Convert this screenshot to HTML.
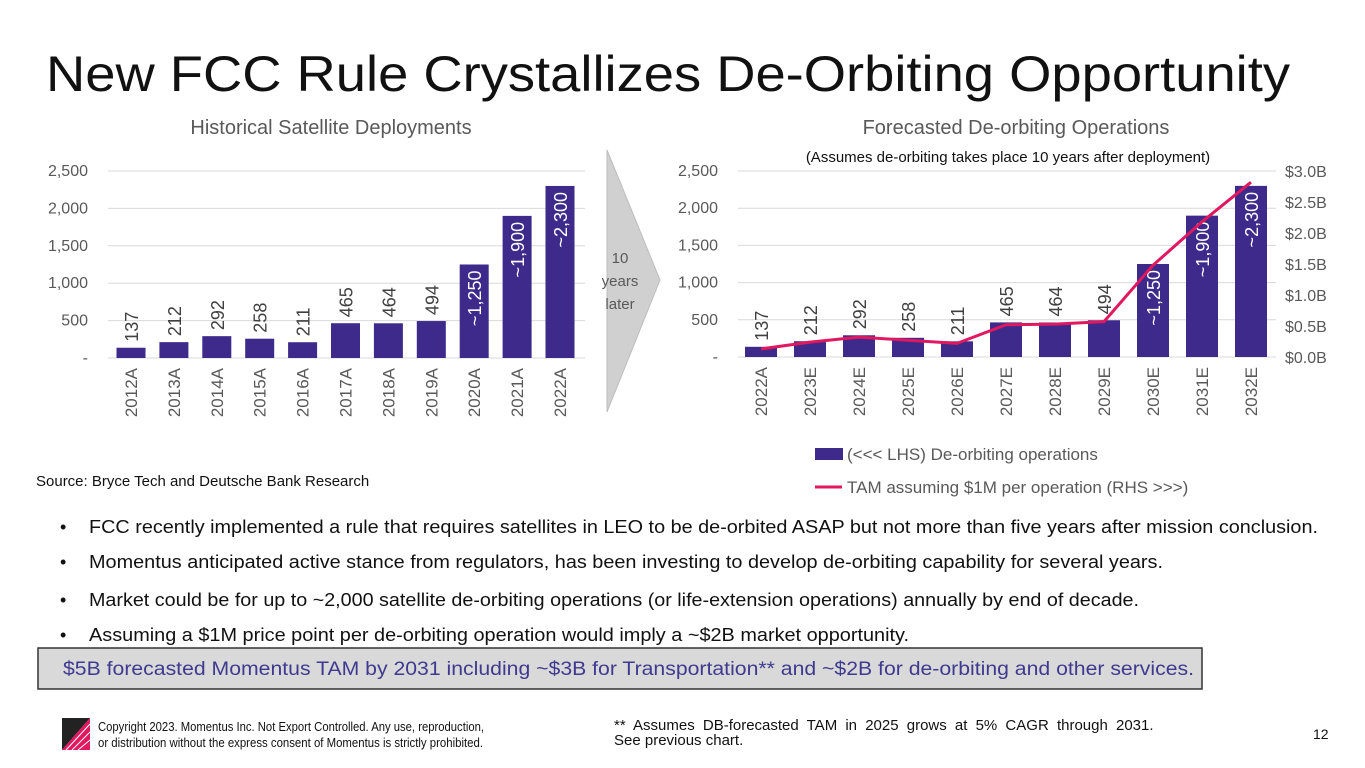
<!DOCTYPE html>
<html><head><meta charset="utf-8"><style>
body{margin:0;background:#fff;width:1365px;height:768px;overflow:hidden;font-family:"Liberation Sans",sans-serif}
svg{display:block}
</style></head><body>
<svg id="s" width="1365" height="768" xmlns="http://www.w3.org/2000/svg" font-family="Liberation Sans, sans-serif">
<text x="46" y="91" font-size="50" fill="#111" textLength="1244" lengthAdjust="spacingAndGlyphs">New FCC Rule Crystallizes De-Orbiting Opportunity</text>
<text x="331" y="134" font-size="20" fill="#595959" text-anchor="middle">Historical Satellite Deployments</text>
<text x="1016" y="134" font-size="20" fill="#595959" text-anchor="middle">Forecasted De-orbiting Operations</text>
<text x="1008" y="162" font-size="15" fill="#111" text-anchor="middle">(Assumes de-orbiting takes place 10 years after deployment)</text>
<g id="left"></g>
<g id="right"></g>
<g>
<polygon points="607,150 660,280 607,412" fill="#d0d0d0" stroke="#bdbdbd"/>
<text x="620" y="263" font-size="15" fill="#595959" text-anchor="middle">10</text>
<text x="620" y="286" font-size="15" fill="#595959" text-anchor="middle">years</text>
<text x="620" y="309" font-size="15" fill="#595959" text-anchor="middle">later</text>
</g>
<g>
<rect x="815" y="448" width="28" height="12" fill="#3d2a8a"/>
<text x="847" y="460" font-size="17" fill="#595959">(&lt;&lt;&lt; LHS) De-orbiting operations</text>
<line x1="815" y1="487" x2="842" y2="487" stroke="#e0185f" stroke-width="3"/>
<text x="847" y="493" font-size="17" fill="#595959">TAM assuming $1M per operation (RHS &gt;&gt;&gt;)</text>
</g>
<text x="36" y="486" font-size="15" fill="#111">Source: Bryce Tech and Deutsche Bank Research</text>
<g font-size="18" fill="#111">
<text x="60" y="533">•</text><text x="89" y="533" textLength="1229" lengthAdjust="spacingAndGlyphs">FCC recently implemented a rule that requires satellites in LEO to be de-orbited ASAP but not more than five years after mission conclusion.</text>
<text x="60" y="568">•</text><text x="89" y="568" textLength="1074" lengthAdjust="spacingAndGlyphs">Momentus anticipated active stance from regulators, has been investing to develop de-orbiting capability for several years.</text>
<text x="60" y="606">•</text><text x="89" y="606" textLength="1050" lengthAdjust="spacingAndGlyphs">Market could be for up to ~2,000 satellite de-orbiting operations (or life-extension operations) annually by end of decade.</text>
<text x="60" y="641">•</text><text x="89" y="641" textLength="820" lengthAdjust="spacingAndGlyphs">Assuming a $1M price point per de-orbiting operation would imply a ~$2B market opportunity.</text>
</g>
<rect x="38" y="648" width="1164" height="41" fill="#d9d9d9" stroke="#333" stroke-width="1.5"/>
<text x="63" y="675" font-size="19" fill="#3f3a8f" textLength="1131" lengthAdjust="spacingAndGlyphs">$5B forecasted Momentus TAM by 2031 including ~$3B for Transportation** and ~$2B for de-orbiting and other services.</text>
<g>
<polygon points="62,718 90,718 62,750" fill="#222"/>
<polygon points="90,718 90,750 62,750" fill="#e0185f"/>
<line x1="66" y1="750" x2="90" y2="724" stroke="#fff" stroke-width="1"/>
<line x1="72" y1="750" x2="90" y2="732" stroke="#fff" stroke-width="1"/>
<line x1="78" y1="750" x2="90" y2="740" stroke="#fff" stroke-width="1"/>
</g>
<text font-size="13" fill="#111"><tspan x="98" y="731" textLength="386" lengthAdjust="spacingAndGlyphs">Copyright 2023. Momentus Inc. Not Export Controlled. Any use, reproduction,</tspan><tspan x="98" y="747" textLength="385" lengthAdjust="spacingAndGlyphs">or distribution without the express consent of Momentus is strictly prohibited.</tspan></text>
<text font-size="15" fill="#111"><tspan x="614" y="730" word-spacing="4">** Assumes DB-forecasted TAM in 2025 grows at 5% CAGR through 2031.</tspan><tspan x="614" y="745">See previous chart.</tspan></text>
<text x="1313" y="739" font-size="14" fill="#111">12</text>
</svg>
<script>
const histCats=["2012A","2013A","2014A","2015A","2016A","2017A","2018A","2019A","2020A","2021A","2022A"];
const histVals=[137,212,292,258,211,465,464,494,1250,1900,2300];
const histLabels=["137","212","292","258","211","465","464","494","~1,250","~1,900","~2,300"];
const fcCats=["2022A","2023E","2024E","2025E","2026E","2027E","2028E","2029E","2030E","2031E","2032E"];
const fcVals=[137,212,292,258,211,465,464,494,1250,1900,2300];
const fcLabels=["137","212","292","258","211","465","464","494","~1,250","~1,900","~2,300"];
const tamVals=[0.13,0.24,0.32,0.27,0.22,0.52,0.53,0.57,1.48,2.18,2.82];
const leftTicks=[0,500,1000,1500,2000,2500];
const leftTickLabels=["-","500","1,000","1,500","2,000","2,500"];
const rightTicks=[0,0.5,1,1.5,2,2.5,3];
const rightTickLabels=["$0.0B","$0.5B","$1.0B","$1.5B","$2.0B","$2.5B","$3.0B"];
const NS="http://www.w3.org/2000/svg";
function mk(tag,attrs,parent,txt){const e=document.createElementNS(NS,tag);for(const k in attrs)e.setAttribute(k,attrs[k]);if(txt!==undefined)e.textContent=txt;parent.appendChild(e);return e;}
function chart(g,cats,vals,labels,x0,x1,c0,step,bw,base,top,tam){
  const y=v=>base-(v/2500)*(base-top);
  const x=i=>c0+i*step;
  leftTicks.forEach((t,i)=>{
    const l=mk('line',{x1:x0,x2:x1,y1:y(t),y2:y(t),stroke:'#d9d9d9','stroke-width':1},g);
    
    
    const tx=mk('text',{x:x0-20,y:y(t)+5,'font-size':16,fill:'#595959','text-anchor':'end'},g,leftTickLabels[i]);
    
    
  });
  vals.forEach((v,i)=>{
    const r=mk('rect',{x:x(i)-bw/2,y:y(v),width:bw,height:base-y(v),fill:'#3d2a8a'},g);
    
    
    const inside=v>1000;
    const ly=inside?y(v)+6:y(v)-6;
    const t=mk('text',{'font-size':18,fill:inside?'#fff':'#404040','text-anchor':inside?'end':'start',transform:`translate(${x(i)+7},${ly}) rotate(-90)`},g,labels[i]);
    
    
    const c=mk('text',{'font-size':17,fill:'#595959','text-anchor':'end',transform:`translate(${x(i)+6},${base+10}) rotate(-90)`},g,cats[i]);
    
    
  });
  if(tam){
    const yr=v=>base-(v/3)*(base-top);
    const pts=tam.map((v,i)=>x(i)+','+yr(v)).join(' ');
    const p=mk('polyline',{points:pts,fill:'none',stroke:'#e0185f','stroke-width':3,'stroke-linejoin':'round'},g);
    
    
    rightTicks.forEach((t,i)=>{
      const tx=mk('text',{x:1285,y:yr(t)+6,'font-size':16,fill:'#595959'},g,rightTickLabels[i]);
      
      
    });
  }
}
chart(document.getElementById('left'),histCats,histVals,histLabels,108,585,131,42.9,29,358,171,null);
chart(document.getElementById('right'),fcCats,fcVals,fcLabels,738,1276,761,49,32,357,171,tamVals);
</script>
</body></html>
